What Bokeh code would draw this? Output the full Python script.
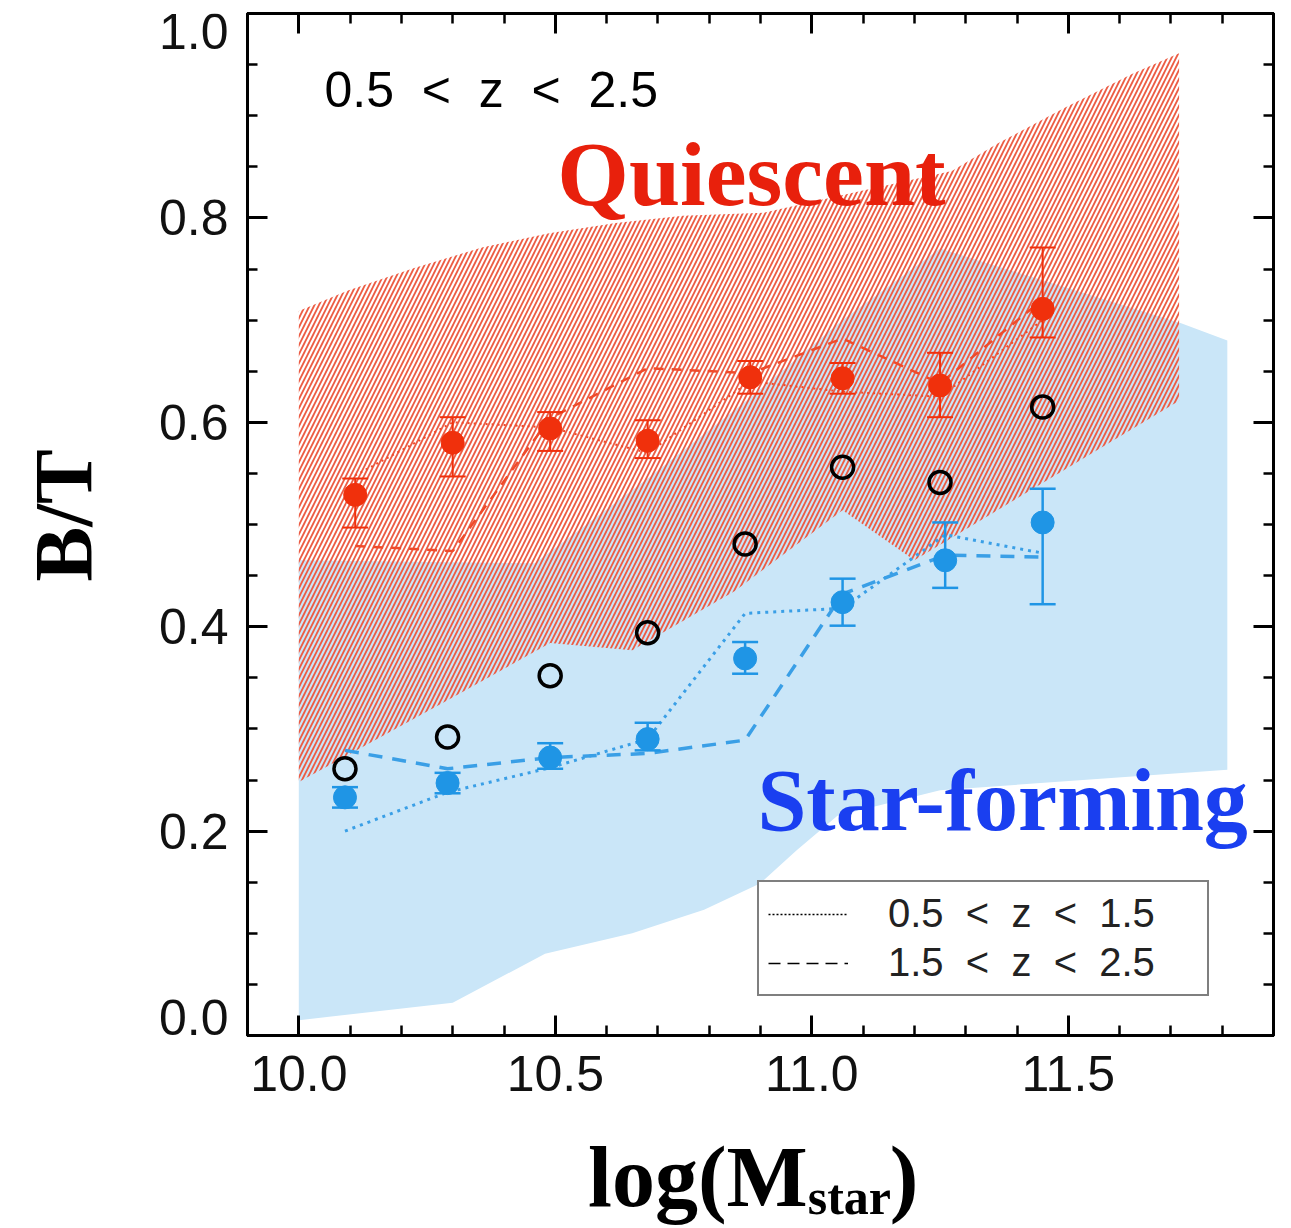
from bokeh.plotting import figure
from bokeh.layouts import column, row
from bokeh.models import (Range1d, LinearAxis, SingleIntervalTicker, PrintfTickFormatter,
                          CustomJSTickFormatter, Label, Legend, LegendItem)
from bokeh.embed import file_html
from bokeh.resources import INLINE
import math

# ---------------- data ----------------
q_mass = [10.11, 10.30, 10.49, 10.68, 10.88, 11.06, 11.25, 11.45]
q_bt = [0.529, 0.580, 0.594, 0.582, 0.644, 0.643, 0.636, 0.711]
q_up = [0.545, 0.605, 0.610, 0.602, 0.660, 0.658, 0.668, 0.771]
q_lo = [0.497, 0.547, 0.572, 0.565, 0.628, 0.628, 0.605, 0.683]
q_lowz = [0.548, 0.600, 0.595, 0.570, 0.640, 0.630, 0.625, 0.700]
q_highz = [0.479, 0.474, 0.604, 0.653, 0.648, 0.682, 0.638, 0.720]

sf_mass = [10.09, 10.29, 10.49, 10.68, 10.87, 11.06, 11.26, 11.45]
sf_bt = [0.233, 0.247, 0.272, 0.290, 0.369, 0.424, 0.465, 0.502]
sf_up = [0.243, 0.257, 0.286, 0.306, 0.385, 0.447, 0.502, 0.535]
sf_lo = [0.223, 0.237, 0.261, 0.279, 0.354, 0.401, 0.438, 0.422]
sf_lowz = [0.200, 0.238, 0.262, 0.290, 0.413, 0.418, 0.490, 0.472]
sf_highz = [0.279, 0.261, 0.272, 0.276, 0.289, 0.432, 0.470, 0.468]

all_mass = [10.09, 10.29, 10.49, 10.68, 10.87, 11.06, 11.25, 11.45]
all_bt = [0.261, 0.292, 0.352, 0.394, 0.481, 0.556, 0.541, 0.615]

# quiescent envelope (hatched)
q_env_top_x = [10.0, 10.096, 10.225, 10.357, 10.488, 10.618, 10.749, 10.906, 11.102, 11.273, 11.363, 11.494, 11.625, 11.716]
q_env_top_y = [0.709, 0.729, 0.751, 0.771, 0.785, 0.795, 0.802, 0.805, 0.827, 0.846, 0.873, 0.908, 0.941, 0.961]
q_env_bot_x = [10.0, 10.29, 10.49, 10.65, 10.85, 11.06, 11.20, 11.716]
q_env_bot_y = [0.248, 0.328, 0.384, 0.377, 0.435, 0.514, 0.465, 0.621]

# star-forming envelope (filled)
sf_env_top_x = [10.0, 10.46, 10.68, 10.87, 11.06, 11.25, 11.72, 11.81]
sf_env_top_y = [0.465, 0.462, 0.545, 0.620, 0.700, 0.770, 0.697, 0.680]
sf_env_bot_x = [10.0, 10.30, 10.48, 10.65, 10.79, 10.90, 10.97, 11.05, 11.25, 11.81]
sf_env_bot_y = [0.015, 0.032, 0.080, 0.100, 0.123, 0.149, 0.181, 0.215, 0.240, 0.260]

x_major = 0.5
y_major = 0.2
y_tick_values = [0.0, 0.2, 0.4, 0.6, 0.8, 1.0]
y_tick_labels = ["0.0", "0.2", "0.4", "0.6", "0.8", "1.0"]
legend_labels = ["0.5  <  z  <  1.5", "1.5  <  z  <  2.5"]
range_label = "0.5 \u00a0<\u00a0 z \u00a0<\u00a0 2.5"

# ---------------- styling / geometry ----------------
RED = "#f0300c"
RED_LINE = "#ef4b2b"
HATCH = "#ec5c44"
BLUE = "#1f95e5"
BLUE_LINE = "#3a9fe6"
SF_FILL = "#cae6f8"
SANS = "Liberation Sans"
SERIF = "Liberation Serif"

X0, X1, Y0, Y1 = 9.9, 11.9, 0.0, 1.0
FW, FH = 1026, 1022             # frame size in px
LEFT, RIGHT, TOP, BOTTOM = 247, 18, 13, 75
XTITLE_H = 118
PX = FW / (X1 - X0)             # px per x unit
# end labels of the y axis sit slightly inside the frame, as in the original
y_label_nudge = [0.018, 0, 0, 0, 0, -0.018]

# ---------------- main plot ----------------
p = figure(frame_width=FW, frame_height=FH,
           x_range=Range1d(X0, X1), y_range=Range1d(Y0, Y1),
           x_axis_location=None, y_axis_location=None,
           min_border_left=4, min_border_right=RIGHT, min_border_top=TOP,
           min_border_bottom=BOTTOM,
           output_backend="svg", toolbar_location=None)
p.xgrid.visible = False
p.ygrid.visible = False
p.outline_line_color = "black"
p.outline_line_width = 3
p.background_fill_color = "white"
p.border_fill_color = "white"

xt = SingleIntervalTicker(interval=x_major, num_minor_ticks=5)
yt = SingleIntervalTicker(interval=y_major, num_minor_ticks=4)
fmt = PrintfTickFormatter(format="%.1f")
blank = CustomJSTickFormatter(code="return ''")

bottom_ax = LinearAxis(ticker=xt, formatter=fmt)
left_ax = LinearAxis(ticker=yt, formatter=blank)
top_ax = LinearAxis(ticker=xt, formatter=blank)
right_ax = LinearAxis(ticker=yt, formatter=blank)
p.add_layout(bottom_ax, "below")
p.add_layout(left_ax, "left")
p.add_layout(top_ax, "above")
p.add_layout(right_ax, "right")

for ax in [bottom_ax, left_ax, top_ax, right_ax]:
    ax.axis_line_width = 3
    ax.major_tick_line_width = 3
    ax.minor_tick_line_width = 2.5
    ax.major_tick_in = 20
    ax.major_tick_out = 0
    ax.minor_tick_in = 10
    ax.minor_tick_out = 0
for ax in [left_ax, top_ax, right_ax]:
    ax.major_label_standoff = 0

bottom_ax.major_label_text_font = SANS
bottom_ax.major_label_text_font_size = "50px"
bottom_ax.major_label_text_color = "#111111"
bottom_ax.major_label_standoff = 20

# envelopes
p.patch(sf_env_top_x + sf_env_bot_x[::-1], sf_env_top_y + sf_env_bot_y[::-1],
        fill_color=SF_FILL, line_color=None)
p.patch(q_env_top_x + q_env_bot_x[::-1], q_env_top_y + q_env_bot_y[::-1],
        fill_alpha=0, line_color=None, hatch_pattern="/", hatch_color=HATCH,
        hatch_scale=9, hatch_weight=1.8)

# redshift-split lines
p.line(q_mass, q_lowz, line_color=RED_LINE, line_width=2, line_dash="2 4")
p.line(q_mass, q_highz, line_color=RED_LINE, line_width=2.5, line_dash="10 8")
p.line(sf_mass, sf_lowz, line_color=BLUE_LINE, line_width=3, line_dash="3 5")
p.line(sf_mass, sf_highz, line_color=BLUE_LINE, line_width=3.5, line_dash="14 10")

# error bars
p.segment(x0=q_mass, y0=q_lo, x1=q_mass, y1=q_up, line_color=RED, line_width=2)
p.scatter(q_mass + q_mass, q_up + q_lo, marker="dash", size=26, line_color=RED, line_width=2)
p.segment(x0=sf_mass, y0=sf_lo, x1=sf_mass, y1=sf_up, line_color=BLUE, line_width=2.5)
p.scatter(sf_mass + sf_mass, sf_up + sf_lo, marker="dash", size=26, line_color=BLUE, line_width=2.5)

# points
p.scatter(all_mass, all_bt, marker="circle", size=22, fill_color=None,
          line_color="black", line_width=3.5)
p.scatter(q_mass, q_bt, marker="circle", size=23, fill_color=RED, line_color=RED)
p.scatter(sf_mass, sf_bt, marker="circle", size=23, fill_color=BLUE, line_color=BLUE)

# legend
nan2 = [float("nan"), float("nan")]
r_dot = p.line(nan2, nan2, line_color="black", line_width=1.5, line_dash="2 2")
r_dash = p.line(nan2, nan2, line_color="black", line_width=1.5, line_dash="12 7")
legend = Legend(items=[LegendItem(label=legend_labels[0], renderers=[r_dot]),
                       LegendItem(label=legend_labels[1], renderers=[r_dash])],
                location=(510, 39))
legend.border_line_color = "black"
legend.border_line_width = 2
legend.background_fill_color = "white"
legend.background_fill_alpha = 1
legend.label_text_font = SANS
legend.label_text_font_size = "40px"
legend.label_text_color = "#222222"
legend.glyph_width = 80
legend.glyph_height = 36
legend.spacing = 4
legend.padding = 9
legend.margin = 0
legend.label_standoff = 40
legend.label_width = 310
p.add_layout(legend)

# in-plot texts
p.add_layout(Label(x=10.05, y=0.925, text=range_label, text_font=SANS,
                   text_font_size="50px", text_color="black", text_baseline="alphabetic"))
p.add_layout(Label(x=10.504, y=0.8425, text="Quiescent", text_font=SERIF,
                   text_font_style="bold", text_font_size="92px", text_color="#e8200c",
                   text_baseline="alphabetic"))
p.add_layout(Label(x=10.894, y=0.230, text="Star-forming", text_font=SERIF,
                   text_font_style="bold", text_font_size="88px", text_color="#1a3ff0",
                   text_baseline="alphabetic"))

# ---------------- y tick labels and y title (left strip, frame aligned with p) ----------------
yfig = figure(frame_width=LEFT - 4, frame_height=FH,
              x_range=Range1d(0, LEFT - 4), y_range=p.y_range,
              x_axis_location=None, y_axis_location=None,
              min_border_left=0, min_border_right=0,
              min_border_top=TOP, min_border_bottom=BOTTOM,
              output_backend="svg", toolbar_location=None)
yfig.xgrid.visible = False
yfig.ygrid.visible = False
yfig.outline_line_color = None
for v, lab, nud in zip(y_tick_values, y_tick_labels, y_label_nudge):
    yfig.add_layout(Label(x=228, y=v + nud, text=lab, text_font=SANS, text_font_size="50px",
                          text_color="#111111", text_align="right", text_baseline="middle"))
yfig.add_layout(Label(x=63, y=0.509, text="B/T", text_font=SERIF, text_font_style="bold",
                      text_font_size="82px", text_color="black", angle=math.pi / 2,
                      text_align="center", text_baseline="middle"))

# ---------------- x title (bottom strip) ----------------
xfig = figure(width=LEFT + FW + RIGHT, height=XTITLE_H,
              x_range=Range1d(X0 - LEFT / PX, X1 + RIGHT / PX),
              y_range=Range1d(0, XTITLE_H),
              x_axis_location=None, y_axis_location=None, min_border=0,
              output_backend="svg", toolbar_location=None)
xfig.xgrid.visible = False
xfig.ygrid.visible = False
xfig.outline_line_color = None
xfig.add_layout(Label(x=10.992, y=52, text="log(M", text_font=SERIF, text_font_style="bold",
                      text_font_size="86px", text_color="black", text_align="right",
                      text_baseline="alphabetic"))
xfig.add_layout(Label(x=10.992, y=32, text="star", text_font=SERIF, text_font_style="bold",
                      text_font_size="50px", text_color="black", text_align="left",
                      text_baseline="alphabetic"))
xfig.add_layout(Label(x=11.152, y=52, text=")", text_font=SERIF, text_font_style="bold",
                      text_font_size="86px", text_color="black", text_align="left",
                      text_baseline="alphabetic"))

layout = column(row(yfig, p, spacing=0), xfig, spacing=0)
open("out.html", "w").write(file_html(layout, INLINE))
